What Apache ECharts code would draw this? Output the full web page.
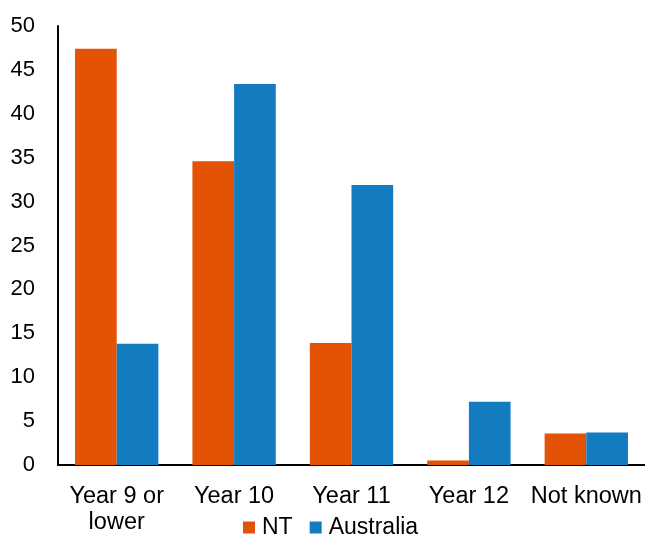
<!DOCTYPE html>
<html>
<head>
<meta charset="utf-8">
<script src="https://cdn.jsdelivr.net/npm/echarts@6/dist/echarts.min.js"></script>
<style>
  html, body { margin: 0; padding: 0; background: #ffffff; }
  #chart { width: 645px; height: 536px; }
</style>
</head>
<body>
<div id="chart"></div>
<script>
// Highest year of schooling completed, NT vs Australia (%)
const categories = ['Year 9 or\nlower', 'Year 10', 'Year 11', 'Year 12', 'Not known'];
const ntValues = [47.4, 34.6, 13.9, 0.5, 3.6];
const australiaValues = [13.8, 43.4, 31.9, 7.2, 3.7];
const yTicks = [0, 5, 10, 15, 20, 25, 30, 35, 40, 45, 50];

const font = 'Liberation Sans, Arial, sans-serif';
const chart = echarts.init(document.getElementById('chart'), null, { renderer: 'canvas' });

chart.setOption({
  animation: false,
  backgroundColor: '#ffffff',
  grid: { left: 58, right: 0, top: 26, bottom: 69 },
  legend: {
    data: ['NT', 'Australia'],
    left: 243,
    top: 516,
    padding: 0,
    itemWidth: 12,
    itemHeight: 12,
    itemGap: 17,
    icon: 'rect',
    textStyle: { fontFamily: font, fontSize: 23, color: '#000000', padding: [0, 0, 0, 2] }
  },
  xAxis: {
    type: 'category',
    data: categories,
    axisLine: { lineStyle: { color: '#000000', width: 2 } },
    axisTick: { show: false },
    axisLabel: {
      fontFamily: font, fontSize: 23.5, color: '#000000',
      margin: 19, lineHeight: 26, interval: 0
    }
  },
  yAxis: {
    type: 'value',
    min: yTicks[0],
    max: yTicks[yTicks.length - 1],
    interval: 5,
    splitLine: { show: false },
    axisLine: { show: true, lineStyle: { color: '#000000', width: 2 } },
    axisTick: { show: false },
    axisLabel: { fontFamily: font, fontSize: 22, color: '#000000', margin: 23 }
  },
  series: [
    {
      name: 'NT', type: 'bar', data: ntValues,
      barGap: '0%', barCategoryGap: '29%',
      itemStyle: { color: '#E35205' }
    },
    {
      name: 'Australia', type: 'bar', data: australiaValues,
      barGap: '0%', barCategoryGap: '29%',
      itemStyle: { color: '#137CC1' }
    }
  ]
});
</script>
</body>
</html>
